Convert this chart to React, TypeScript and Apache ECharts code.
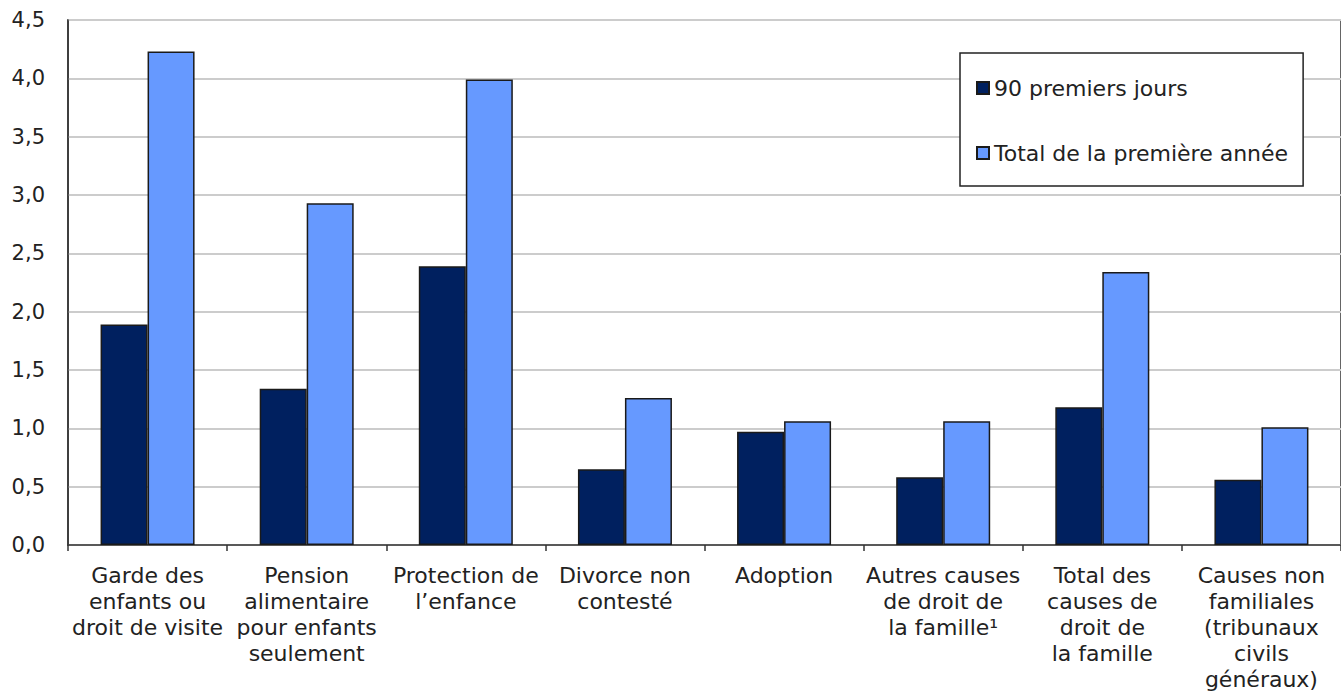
import React, { useEffect, useRef } from "react";
import * as echarts from "echarts";

// Case types (x-axis categories)
const categories = [
  "Garde des\nenfants ou\ndroit de visite",
  "Pension\nalimentaire\npour enfants\nseulement",
  "Protection de\nl’enfance",
  "Divorce non\ncontesté",
  "Adoption",
  "Autres causes\nde droit de\nla famille¹",
  "Total des\ncauses de\ndroit de\nla famille",
  "Causes non\nfamiliales\n(tribunaux\ncivils\ngénéraux)",
];

const seriesNames = ["90 premiers jours", "Total de la première année"];

// Values per category
const first90Days = [1.89, 1.34, 2.39, 0.65, 0.97, 0.58, 1.18, 0.56];
const firstYearTotal = [4.23, 2.93, 3.99, 1.26, 1.06, 1.06, 2.34, 1.01];

// Y-axis scale
const yMin = 0;
const yMax = 4.5;
const yStep = 0.5;

const FONT = "'DejaVu Sans', Verdana, sans-serif";
const TEXT = "#222222";

export default function App() {
  const ref = useRef<HTMLDivElement>(null);

  useEffect(() => {
    if (!ref.current) return;
    const chart = echarts.init(ref.current, null, { renderer: "svg" });
    chart.setOption({
      animation: false,
      backgroundColor: "#ffffff",
      textStyle: { fontFamily: FONT, color: TEXT },
      grid: {
        left: 68,
        right: -1,
        top: 20,
        bottom: 144,
        show: true,
        borderColor: "#333333",
        borderWidth: 1.5,
        backgroundColor: "transparent",
      },
      legend: {
        orient: "vertical",
        left: 960,
        top: 53,
        padding: [23, 15, 21, 16],
        itemGap: 41,
        itemWidth: 12,
        itemHeight: 12,
        itemTextGap: 14,
        backgroundColor: "#ffffff",
        borderColor: "#222222",
        borderWidth: 1.5,
        textStyle: { fontFamily: FONT, fontSize: 22, color: TEXT, lineHeight: 24 },
        data: seriesNames.map((n) => ({ name: n, icon: "rect" })),
      },
      xAxis: {
        type: "category",
        data: categories,
        axisLine: { lineStyle: { color: "#333333", width: 1.5 } },
        axisTick: { show: true, length: 6, alignWithLabel: false, lineStyle: { color: "#333333", width: 1.5 } },
        axisLabel: {
          interval: 0,
          margin: 17,
          fontFamily: FONT,
          fontSize: 22,
          lineHeight: 26,
          color: TEXT,
          align: "center",
        },
      },
      yAxis: {
        type: "value",
        min: yMin,
        max: yMax,
        interval: yStep,
        axisLine: { show: true, lineStyle: { color: "#333333", width: 1.5 } },
        axisTick: { show: false },
        splitLine: { show: true, lineStyle: { color: "#cccccc", width: 2 } },
        axisLabel: {
          margin: 23,
          fontFamily: FONT,
          fontSize: 21,
          color: TEXT,
          formatter: (v: number) => v.toFixed(1).replace(".", ","),
        },
      },
      series: [
        {
          name: seriesNames[0],
          type: "bar",
          data: first90Days,
          barWidth: 47,
          barGap: "0%",
          itemStyle: { color: "#00205f", borderColor: "#1a1a1a", borderWidth: 1.5 },
        },
        {
          name: seriesNames[1],
          type: "bar",
          data: firstYearTotal,
          barWidth: 47,
          barGap: "0%",
          itemStyle: { color: "#6699ff", borderColor: "#1a1a1a", borderWidth: 1.5 },
        },
      ],
    });
    return () => chart.dispose();
  }, []);

  return (
    <div
      ref={ref}
      style={{ position: "fixed", left: 0, top: 0, width: 1341, height: 692 }}
    />
  );
}
